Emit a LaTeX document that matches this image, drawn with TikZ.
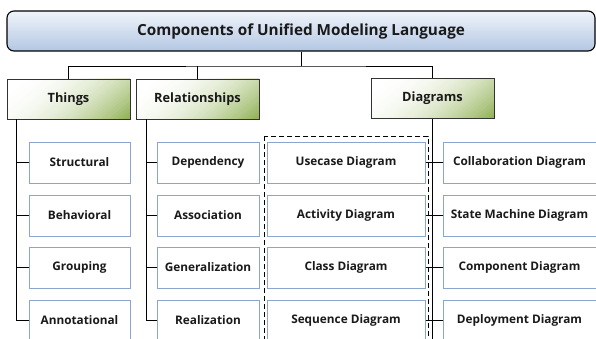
\documentclass[tikz,border=0pt]{standalone}
\usepackage{fontspec}
\setmainfont{Open Sans}
\usetikzlibrary{positioning,calc}
\definecolor{topA}{HTML}{F0F4FA}
\definecolor{topB}{HTML}{B3C7E3}
\definecolor{grnB}{HTML}{8CAE4E}
\definecolor{boxline}{HTML}{8AA5CE}
\definecolor{ink}{HTML}{1A1A1A}
\tikzset{
  titlebox/.style={draw=black, line width=1.1pt, rounded corners=7pt,
    shading=axis, top color=topA, bottom color=topB,
    minimum width=588pt, minimum height=40pt, inner sep=0pt,
    font=\fontsize{15.3}{17}\selectfont\bfseries, text=ink},
  catbox/.style={draw=black!80, line width=0.9pt,
    path picture={
      \coordinate (pnw) at (path picture bounding box.north west);
      \coordinate (pne) at (path picture bounding box.north east);
      \coordinate (psw) at (path picture bounding box.south west);
      \coordinate (pse) at (path picture bounding box.south east);
      \fill[white] (psw) rectangle (pne);
      \foreach \k in {1,...,40}{
        \pgfmathsetmacro\bandT{\k/40/0.72}
        \pgfmathsetmacro\bandB{(\k/40-0.28)/0.72}
        \pgfmathtruncatemacro\bandP{min(100,100*(\k/40)^2.2)}
        \fill[grnB!\bandP!white] ($(pnw)!\bandT!(pne)$) -- ($(pnw)!1.6!(pne)$)
          -- ($(psw)!1.6!(pse)$) -- ($(psw)!\bandB!(pse)$) -- cycle;
      }
    },
    minimum width=123pt, minimum height=40pt, inner sep=0pt,
    font=\fontsize{12.8}{14}\selectfont\bfseries, text=ink},
  itembox/.style={draw=boxline, line width=1pt, fill=white,
    minimum height=41pt, inner sep=0pt,
    font=\fontsize{11.8}{13}\selectfont\bfseries, text=ink},
  linkline/.style={draw=black, line width=0.9pt},
  groupline/.style={draw=black, line width=1pt, dash pattern=on 5pt off 3pt}
}
\begin{document}
\begin{tikzpicture}[x=1pt,y=1pt]
\useasboundingbox (0,0) rectangle (596,338);
% title
\node[titlebox] (top) at (301,307) {Components of Unified Modeling Language};
% categories
\node[catbox] (things) at (68.5,239) {Things};
\node[catbox] (rel) at (197.5,239) {Relationships};
\node[catbox] (diag) at (432.5,239.5) {Diagrams};
% column 1
\node[itembox, minimum width=101pt] (s1) at (79.5,175.5) {Structural};
\node[itembox, minimum width=101pt] (s2) at (79.5,122.5) {Behavioral};
\node[itembox, minimum width=101pt] (s3) at (79.5,70.5) {Grouping};
\node[itembox, minimum width=101pt] (s4) at (79.5,17.5) {Annotational};
% column 2
\node[itembox, minimum width=102pt] (r1) at (208,175.5) {Dependency};
\node[itembox, minimum width=102pt] (r2) at (208,122.5) {Association};
\node[itembox, minimum width=102pt] (r3) at (208,70.5) {Generalization};
\node[itembox, minimum width=102pt] (r4) at (208,17.5) {Realization};
% column 3
\node[itembox, minimum width=158pt] (d1) at (346,175.5) {Usecase Diagram};
\node[itembox, minimum width=158pt] (d2) at (346,122.5) {Activity Diagram};
\node[itembox, minimum width=158pt] (d3) at (346,70.5) {Class Diagram};
\node[itembox, minimum width=158pt] (d4) at (346,17.5) {Sequence Diagram};
% column 4
\node[itembox, minimum width=153pt] (e1) at (519.5,175.5) {Collaboration Diagram};
\node[itembox, minimum width=153pt] (e2) at (519.5,122.5) {State Machine Diagram};
\node[itembox, minimum width=153pt] (e3) at (519.5,70.5) {Component Diagram};
\node[itembox, minimum width=153pt] (e4) at (519.5,17.5) {Deployment Diagram};
% dashed group
\draw[groupline] (264,202) rectangle (428,-12);
% top connectors
\coordinate (hub) at (301,272);
\draw[linkline] (top.south) -- (hub);
\draw[linkline] (things.north) |- (hub) -| (diag.north);
\draw[linkline] (rel.north) -- (rel.north |- hub);
% things tree
\coordinate (tl) at ([xshift=10pt]things.south west);
\draw[linkline] (tl) |- (s4.west);
\draw[linkline] (s1.west) -- (s1.west -| tl);
\draw[linkline] (s2.west) -- (s2.west -| tl);
\draw[linkline] (s3.west) -- (s3.west -| tl);
% relationships tree
\coordinate (rl) at ([xshift=11pt]rel.south west);
\draw[linkline] (rl) |- (r4.west);
\draw[linkline] (r1.west) -- (r1.west -| rl);
\draw[linkline] (r2.west) -- (r2.west -| rl);
\draw[linkline] (r3.west) -- (r3.west -| rl);
% diagrams tree
\coordinate (dend) at (432.5,-7);
\draw[linkline] (diag.south) -- (dend);
\draw[linkline] (d1.east) -- (e1.west);
\draw[linkline] (d2.east) -- (e2.west);
\draw[linkline] (d3.east) -- (e3.west);
\draw[linkline] (d4.east) -- (e4.west);
\end{tikzpicture}
\end{document}
